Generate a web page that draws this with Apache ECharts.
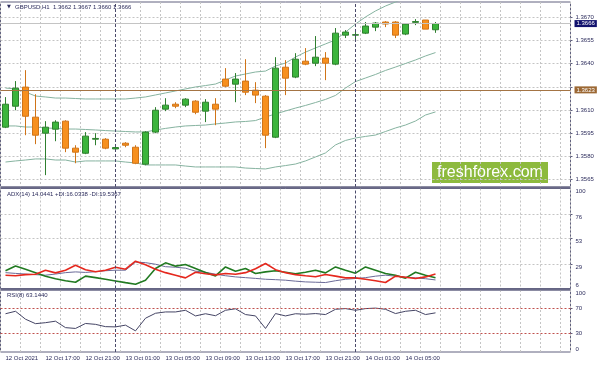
<!DOCTYPE html>
<html><head><meta charset="utf-8">
<script src="https://cdn.jsdelivr.net/npm/echarts@6/dist/echarts.min.js"></script>
<style>html,body{margin:0;padding:0;background:#fff}#c{width:599px;height:366px}</style>
</head><body><div id="c"></div><script>
// ---- data ----
const opens  = [1.35988,1.36124,1.36248,1.36053,1.35949,1.35975,1.36027,1.35852,1.35819,1.35910,1.35910,1.35847,1.35884,1.35858,1.35748,1.35956,1.36105,1.36137,1.36131,1.36157,1.36092,1.36137,1.36300,1.36267,1.36287,1.36228,1.36189,1.35923,1.36377,1.36313,1.36416,1.36403,1.36436,1.36397,1.36585,1.36585,1.36598,1.36637,1.36670,1.36670,1.36592,1.36668,1.36683,1.3662];
const highs  = [1.36183,1.36287,1.36358,1.36202,1.36027,1.36033,1.36033,1.35871,1.35956,1.35949,1.35917,1.35860,1.35891,1.35871,1.35962,1.36118,1.36176,1.36150,1.36176,1.36163,1.36170,1.36176,1.36371,1.36339,1.36429,1.36280,1.36196,1.36442,1.36423,1.36468,1.36501,1.36579,1.36475,1.36631,1.36618,1.36605,1.36670,1.36670,1.36676,1.36676,1.36663,1.36689,1.36683,1.3667];
const lows   = [1.35982,1.36098,1.35936,1.35878,1.35677,1.35897,1.35826,1.35754,1.35813,1.35871,1.35845,1.35840,1.35858,1.35748,1.35741,1.35949,1.36092,1.36111,1.36118,1.36072,1.36021,1.36001,1.36248,1.36150,1.36196,1.36144,1.35852,1.35917,1.36196,1.36306,1.36390,1.36384,1.36293,1.36390,1.36566,1.36553,1.36592,1.36611,1.36637,1.36566,1.36585,1.36650,1.36624,1.3660];
const closes = [1.36137,1.36241,1.36059,1.35936,1.35988,1.36021,1.35852,1.35826,1.35930,1.35915,1.35852,1.35856,1.35871,1.35754,1.35956,1.36098,1.36131,1.36124,1.36170,1.36085,1.36150,1.36105,1.36254,1.36300,1.36215,1.36196,1.35936,1.36371,1.36306,1.36429,1.36397,1.36442,1.36403,1.36598,1.36605,1.36588,1.36644,1.36663,1.36657,1.36585,1.36657,1.36673,1.36624,1.3666];
const bbUpper  = [1.36242,1.36236,1.36216,1.36190,1.36184,1.36177,1.36177,1.36174,1.36171,1.36171,1.36171,1.36171,1.36171,1.36177,1.36184,1.36197,1.36210,1.36223,1.36236,1.36249,1.36258,1.36268,1.36294,1.36320,1.36333,1.36346,1.36352,1.36385,1.36404,1.36443,1.36475,1.36502,1.36528,1.36554,1.36605,1.36657,1.36703,1.36742,1.36774,1.36800,1.36826,1.36845,1.36858,1.36865];
const bbMiddle = [1.35996,1.35996,1.35989,1.35989,1.35983,1.35980,1.35976,1.35976,1.35973,1.35970,1.35966,1.35963,1.35960,1.35957,1.35957,1.35970,1.35980,1.35989,1.35996,1.35999,1.36002,1.36009,1.36015,1.36022,1.36025,1.36031,1.36054,1.36074,1.36093,1.36112,1.36129,1.36148,1.36168,1.36194,1.36242,1.36284,1.36307,1.36330,1.36356,1.36378,1.36401,1.36424,1.36450,1.36472];
const bbLower  = [1.35762,1.35769,1.35775,1.35782,1.35782,1.35775,1.35775,1.35762,1.35769,1.35769,1.35769,1.35769,1.35762,1.35756,1.35743,1.35743,1.35743,1.35743,1.35736,1.35730,1.35730,1.35730,1.35730,1.35730,1.35723,1.35720,1.35717,1.35730,1.35739,1.35749,1.35769,1.35795,1.35821,1.35873,1.35902,1.35918,1.35928,1.35937,1.35960,1.35983,1.36002,1.36028,1.36067,1.36087];
const adx     = [20.9,20.2,19.6,19.0,18.5,19.6,20.9,21.6,21.1,21.8,22.7,23.2,23.2,30.8,30.3,28.8,26.5,26.0,25.1,22.3,21.3,19.4,18.0,16.9,16.2,15.5,14.7,14.3,13.8,12.9,12.2,11.9,11.6,13.3,14.7,15.4,16.2,17.6,18.5,17.6,16.6,16.0,15.2,14.0441];
const plusDI  = [22.7,27.2,24.1,20.9,17.6,15.2,13.3,11.9,17.6,16.2,14.7,13.1,11.5,10.0,13.8,24.8,30.1,27.0,28.6,24.8,21.0,17.8,26.3,22.3,24.8,20.1,21.6,22.7,21.3,19.9,21.3,23.2,20.7,26.3,23.2,20.4,26.3,23.2,20.1,18.5,15.7,21.3,18.5,16.0338];
const minusDI = [18.5,18.0,19.0,19.4,23.2,20.7,23.2,27.9,23.7,21.8,23.2,26.0,24.1,31.7,28.4,24.1,20.9,18.5,16.0,21.3,19.9,18.8,20.1,19.4,20.9,24.6,29.5,23.7,20.9,19.0,18.0,17.1,19.2,17.6,16.0,16.0,14.7,13.3,11.6,17.6,16.6,15.4,16.9,19.5367];
const rsi     = [61.7,65.7,52.9,45.7,47.3,49.7,39.3,38.0,46.0,44.6,40.9,40.5,43.3,34.1,54.5,62.5,64.6,64.6,67.3,58.2,61.7,58.5,67.3,69.7,60.4,58.2,38.0,62.0,58.2,61.7,60.9,62.0,60.4,68.9,70.0,67.3,70.0,70.8,68.9,62.0,65.7,67.3,60.4,63.144];
const priceTicks = [1.3565,1.3580,1.3595,1.3610,1.3625,1.3640,1.3655,1.3670];
const priceLabels = [1.3565,1.3580,1.3595,1.3610,1.3640,1.3655,1.3670];
const adxLevels = [29,53,76];
const rsiLevels = [30,70];
const levelLine = 1.3623, bidPrice = 1.3666;

// time categories: H1 bars from 12 Oct 13:00, plus empty right shift
const cats = [];
for (let i = 0; i < 57; i++) {
  const t = 13 + i, d = 12 + Math.floor(t / 24), h = t % 24;
  cats.push(d + ' Oct ' + (h < 10 ? '0' : '') + h + ':00');
}
const sepDays = [cats[11], cats[35]];

const FONT = 'Liberation Sans';
const TXT = '#2c2c5c';
const GRIDC = '#c4c4c4';
const candleData = opens.map((o, i) => [o, closes[i], lows[i], highs[i]]);

function xAxisFor(g, showLabels) {
  return {
    type: 'category', gridIndex: g, data: cats, boundaryGap: true,
    axisLine: { show: false }, axisTick: { show: false },
    axisLabel: showLabels ? {
      show: true, interval: (idx) => idx % 4 === 0 && idx <= 40,
      formatter: (v, idx) => idx === 0 ? '12 Oct 2021' : v,
      align: 'left', margin: 3, fontSize: 6, color: TXT, fontFamily: FONT
    } : { show: false },
    splitLine: { show: true, interval: 1, lineStyle: { color: GRIDC, type: [2, 2], width: 1 } }
  };
}
const sepMark = sepDays.map(c => ({ xAxis: c }));
const sepStyle = { color: '#4a4a6a', type: [3, 2], width: 1 };

const chart = echarts.init(document.getElementById('c'), null, { renderer: 'canvas' });
chart.setOption({
  animation: false,
  backgroundColor: '#ffffff',
  grid: [
    { left: 0.5, width: 570, top: 2, height: 185, show: true, borderColor: '#60607e', borderWidth: 1 },
    { left: 0.5, width: 570, top: 188.5, height: 100, show: true, borderColor: '#60607e', borderWidth: 1 },
    { left: 0.5, width: 570, top: 290, height: 62, show: true, borderColor: '#60607e', borderWidth: 1 }
  ],
  xAxis: [xAxisFor(0, false), xAxisFor(1, false), xAxisFor(2, true)],
  yAxis: [
    { type: 'value', gridIndex: 0, position: 'right', min: 1.3560, max: 1.3680,
      axisLine: { show: false },
      axisTick: { show: true, length: 2, customValues: priceTicks, lineStyle: { color: '#60607e' } },
      axisLabel: { customValues: priceLabels, formatter: v => v.toFixed(4), margin: 5, fontSize: 6, color: TXT, fontFamily: FONT },
      splitLine: { show: true, lineStyle: { color: GRIDC, type: [2, 2] } } },
    { type: 'value', gridIndex: 1, position: 'right', min: 6, max: 100,
      axisLine: { show: false },
      axisTick: { show: true, length: 2, customValues: adxLevels, lineStyle: { color: '#60607e' } },
      axisLabel: { customValues: [29, 53, 76, 100], verticalAlign: 'top', margin: 5, fontSize: 6, color: TXT, fontFamily: FONT },
      splitLine: { show: true, lineStyle: { color: GRIDC, type: [2, 2] } } },
    { type: 'value', gridIndex: 1, position: 'right', min: 6, max: 100, offset: 0,
      axisLine: { show: false }, axisTick: { show: false }, splitLine: { show: false },
      axisLabel: { customValues: [6], verticalAlign: 'bottom', margin: 5, fontSize: 6, color: TXT, fontFamily: FONT } },
    { type: 'value', gridIndex: 2, position: 'right', min: 0, max: 100,
      axisLine: { show: false },
      axisTick: { show: true, length: 2, customValues: rsiLevels, lineStyle: { color: '#60607e' } },
      axisLabel: { customValues: rsiLevels, verticalAlign: 'middle', margin: 5, fontSize: 6, color: TXT, fontFamily: FONT },
      splitLine: { show: false } },
    { type: 'value', gridIndex: 2, position: 'right', min: 0, max: 100, offset: 0,
      axisLine: { show: false }, axisTick: { show: false }, splitLine: { show: false },
      axisLabel: { customValues: [100], verticalAlign: 'top', margin: 5, fontSize: 6, color: TXT, fontFamily: FONT } },
    { type: 'value', gridIndex: 2, position: 'right', min: 0, max: 100, offset: 0,
      axisLine: { show: false }, axisTick: { show: false }, splitLine: { show: false },
      axisLabel: { customValues: [0], verticalAlign: 'bottom', margin: 5, fontSize: 6, color: TXT, fontFamily: FONT } }
  ],
  series: [
    { type: 'line', name: 'BB upper', xAxisIndex: 0, yAxisIndex: 0, data: bbUpper, showSymbol: false, symbol: 'none', clip: true,
      lineStyle: { color: '#86b3a0', width: 1 }, z: 1 },
    { type: 'line', name: 'BB middle', xAxisIndex: 0, yAxisIndex: 0, data: bbMiddle, showSymbol: false, symbol: 'none',
      lineStyle: { color: '#86b3a0', width: 1 }, z: 1,
      markLine: { silent: true, symbol: ['none', 'none'], animation: false, precision: 5,
        data: [
          { yAxis: levelLine, lineStyle: { color: '#a47444', type: 'solid', width: 1 },
            label: { show: true, position: 'end', formatter: levelLine.toFixed(4), backgroundColor: '#9c6834', color: '#fff',
              padding: [1, 2, 0, 2], fontSize: 6, fontFamily: FONT, distance: 4 } },
          { yAxis: bidPrice, lineStyle: { color: '#c4c4c4', type: 'solid', width: 1 },
            label: { show: true, position: 'end', formatter: bidPrice.toFixed(4), backgroundColor: '#12126e', color: '#fff',
              padding: [1, 2, 0, 2], fontSize: 6, fontFamily: FONT, distance: 4 } },
          ...sepMark.map(m => Object.assign({}, m, { lineStyle: sepStyle, label: { show: false } }))
        ] } },
    { type: 'line', name: 'BB lower', xAxisIndex: 0, yAxisIndex: 0, data: bbLower, showSymbol: false, symbol: 'none',
      lineStyle: { color: '#86b3a0', width: 1 }, z: 1 },
    { type: 'candlestick', name: 'GBPUSD', xAxisIndex: 0, yAxisIndex: 0, data: candleData, barWidth: 6,
      itemStyle: { color: '#3cb53c', color0: '#f7901e', borderColor: '#2f7f2f', borderColor0: '#d07418', borderWidth: 1 },
      z: 3 },
    { type: 'line', name: 'ADX', xAxisIndex: 1, yAxisIndex: 1, data: adx, showSymbol: false, symbol: 'none',
      lineStyle: { color: '#6a6a98', width: 1 },
      markLine: { silent: true, symbol: ['none', 'none'], label: { show: false }, lineStyle: sepStyle, data: sepMark } },
    { type: 'line', name: '+DI', xAxisIndex: 1, yAxisIndex: 1, data: plusDI, showSymbol: false, symbol: 'none',
      lineStyle: { color: '#217a21', width: 1.6 } },
    { type: 'line', name: '-DI', xAxisIndex: 1, yAxisIndex: 1, data: minusDI, showSymbol: false, symbol: 'none',
      lineStyle: { color: '#e5281e', width: 1.6 } },
    { type: 'line', name: 'RSI', xAxisIndex: 2, yAxisIndex: 3, data: rsi, showSymbol: false, symbol: 'none',
      lineStyle: { color: '#454565', width: 1 },
      markLine: { silent: true, symbol: ['none', 'none'], label: { show: false },
        data: [
          ...rsiLevels.map(v => ({ yAxis: v, lineStyle: { color: '#c0504d', type: [2, 2], width: 1 } })),
          ...sepMark.map(m => Object.assign({}, m, { lineStyle: sepStyle }))
        ] } }
  ],
  graphic: [
    { type: 'rect', shape: { x: 0.5, y: 186.5, width: 570, height: 2 }, style: { fill: '#6a6a88' }, z: 50 },
    { type: 'rect', shape: { x: 0.5, y: 288.5, width: 570, height: 2 }, style: { fill: '#6a6a88' }, z: 50 },
    { type: 'text', left: 7, top: 4, style: { text: '▼', fontSize: 5, fill: TXT, fontFamily: 'DejaVu Sans' }, z: 50 },
    { type: 'text', left: 15, top: 4, style: { text: 'GBPUSD,H1  1.3662 1.3667 1.3660 1.3666', fontSize: 6, fill: TXT, fontFamily: FONT }, z: 50 },
    { type: 'text', left: 7, top: 191, style: { text: 'ADX(14) 14.0441 +DI:16.0338 -DI:19.5367', fontSize: 6, fill: TXT, fontFamily: FONT }, z: 50 },
    { type: 'text', left: 7, top: 292, style: { text: 'RSI(8) 63.1440', fontSize: 6, fill: TXT, fontFamily: FONT }, z: 50 },
    { type: 'group', left: 432, top: 162, z: 60, children: [
      { type: 'rect', shape: { x: 0, y: 0, width: 116, height: 21 }, style: { fill: '#8dba3e' } },
      { type: 'text', x: 58, y: 10.5, style: { text: 'freshforex.com', fontSize: 16, fill: '#ffffff', fontFamily: FONT, align: 'center', verticalAlign: 'middle' } }
    ] }
  ]
});
</script></body></html>
